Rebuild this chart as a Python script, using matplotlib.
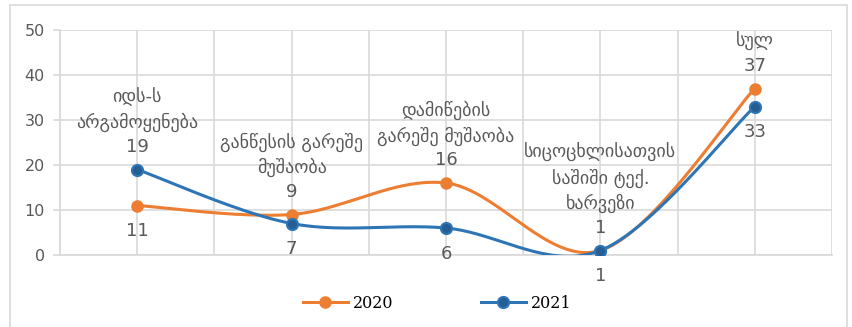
import numpy as np
import matplotlib
matplotlib.use("Agg")
import matplotlib.pyplot as plt
from matplotlib.patches import Rectangle

categories = [
    "იდს-ს\nარგამოყენება",
    "განწესის გარეშე\nმუშაობა",
    "დამიწების\nგარეშე მუშაობა",
    "სიცოცხლისათვის\nსაშიში ტექ.\nხარვეზი",
    "სულ",
]
values_2020 = [11, 9, 16, 1, 37]
values_2021 = [19, 7, 6, 1, 33]
# which series carries the category name label above its point
label_above = ["2021", "2020", "2020", "2020", "2020"]

ORANGE = "#ED7D31"
BLUE = "#2E75B6"
BLUE_DARK = "#245E93"
GRID = "#D9D9D9"
TEXT = "#595959"


def smooth(xs, ys, n=40):
    # Catmull-Rom style bezier smoothing (like Excel's smoothed line)
    xs = np.asarray(xs, float)
    ys = np.asarray(ys, float)
    px = np.concatenate([[xs[0]], xs, [xs[-1]]])
    py = np.concatenate([[ys[0]], ys, [ys[-1]]])
    out_x, out_y = [], []
    t = np.linspace(0, 1, n)
    for i in range(1, len(px) - 2):
        p0 = np.array([px[i], py[i]])
        p3 = np.array([px[i + 1], py[i + 1]])
        c1 = p0 + (np.array([px[i + 1], py[i + 1]]) - np.array([px[i - 1], py[i - 1]])) / 6
        c2 = p3 - (np.array([px[i + 2], py[i + 2]]) - np.array([px[i], py[i]])) / 6
        b = (((1 - t) ** 3)[:, None] * p0 + (3 * (1 - t) ** 2 * t)[:, None] * c1
             + (3 * (1 - t) * t ** 2)[:, None] * c2 + (t ** 3)[:, None] * p3)
        out_x.extend(b[:, 0])
        out_y.extend(b[:, 1])
    return np.array(out_x), np.array(out_y)


fig = plt.figure(figsize=(8.52, 3.27), dpi=100)
ax = fig.add_axes([60 / 852, 72 / 327, 772 / 852, 225 / 327])

x = np.arange(len(categories))
sx, sy = smooth(x, values_2020)
ax.plot(sx, sy, color=ORANGE, lw=2.2, zorder=3, solid_capstyle="round")
ax.plot(x, values_2020, ls="none", marker="o", ms=8, mfc=ORANGE, mec=ORANGE, zorder=4)
sx, sy = smooth(x, values_2021)
ax.plot(sx, sy, color=BLUE, lw=2.2, zorder=5, solid_capstyle="round")
ax.plot(x, values_2021, ls="none", marker="o", ms=8, mfc=BLUE_DARK, mec=BLUE, mew=1.5, zorder=6)

# legend proxies
ax.plot([], [], color=ORANGE, lw=2.2, marker="o", ms=8, mfc=ORANGE, mec=ORANGE, label="2020")
ax.plot([], [], color=BLUE, lw=2.2, marker="o", ms=8, mfc=BLUE_DARK, mec=BLUE, mew=1.5, label="2021")

lab_font = dict(color=TEXT, fontsize=13, family=["DejaVu Sans"], ha="center",
                multialignment="center", linespacing=1.4)
for i, cat in enumerate(categories):
    v20, v21 = values_2020[i], values_2021[i]
    if label_above[i] == "2020":
        top_v, top_txt, bot_v, bot_txt = v20, f"{cat}\n{v20}", v21, f"{v21}"
    else:
        top_v, top_txt, bot_v, bot_txt = v21, f"{cat}\n{v21}", v20, f"{v20}"
    ax.annotate(top_txt, (i, top_v), xytext=(0, 10), textcoords="offset points",
                va="bottom", zorder=7, **lab_font)
    ax.annotate(bot_txt, (i, bot_v), xytext=(0, -12), textcoords="offset points",
                va="top", zorder=7, **lab_font)

ax.set_xlim(-0.5, len(categories) - 0.5)
ax.set_ylim(0, 50)
ax.set_yticks(range(0, 51, 10))
ax.set_xticks(np.arange(-0.5, len(categories), 0.5), minor=False)
ax.set_xticklabels([])
ax.tick_params(axis="x", length=0)
ax.tick_params(axis="y", length=5, width=1.2, color=GRID, labelcolor=TEXT, labelsize=11.5, pad=6)
ax.grid(True, color=GRID, lw=1.2)
ax.set_axisbelow(True)
for s in ["top", "right"]:
    ax.spines[s].set_visible(False)
for s in ["left", "bottom"]:
    ax.spines[s].set_color(GRID)
    ax.spines[s].set_linewidth(1.2)

leg = fig.legend(loc="center", bbox_to_anchor=(0.513, 0.072), ncol=2, frameon=False,
                 prop={"family": "DejaVu Serif", "size": 11.5}, handlelength=2.8,
                 columnspacing=5.5, handletextpad=0.3)

fig.patches.append(Rectangle((10 / 852, -0.01), 837 / 852, 1 - 5 / 327 + 0.01,
                             transform=fig.transFigure, fill=False, ec=GRID, lw=1.2))

fig.savefig("out.png", dpi=100)
